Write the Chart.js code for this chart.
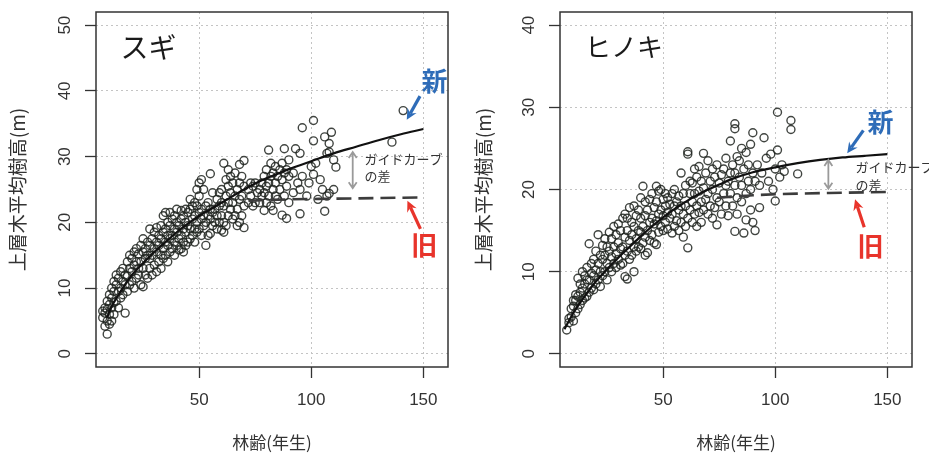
<!DOCTYPE html>
<html>
<head>
<meta charset="utf-8">
<script src="https://cdn.jsdelivr.net/npm/chart.js@4"></script>
<style>
  body { margin: 0; background: #fff; }
  .panel { position: absolute; top: 0; }
</style>
</head>
<body>
<div class="panel" style="left:0px"><canvas id="sugi" width="465" height="455"></canvas></div>
<div class="panel" style="left:464px"><canvas id="hinoki" width="465" height="455"></canvas></div>
<script>
// 軸
const xTitle = '林齢(年生)';
const yTitle = '上層木平均樹高(m)';
const xTickValues = [50, 100, 150];
const sugiYTicks = [0, 10, 20, 30, 40, 50];
const hinokiYTicks = [0, 10, 20, 30, 40];

// スギ: 林齢, 上層木平均樹高
const sugiPoints = [
  [7,6.5],[7,5.5],[8,4.2],[8,7],[9,3],[9,5],[9,8],[10,6],[10,7.5],[10,9],[11,5],[11,7],[11,8.5],[12,6],[12,9.5],[12,11],
  [8,6.2],[9,6.8],[10,4.5],[11,10],[12,7.8],[13,8],[13,10.5],[13,12],[14,7],[14,9.5],[14,11.5],[15,8.5],[15,10],[15,12.5],
  [16,9],[16,11],[16,13],[17,6.2],[17,10.5],[17,12],[18,9.5],[18,11.8],[18,14],[19,10.5],[19,13],[19,15],[20,11],[20,12.5],
  [20,14.5],[21,10],[21,13.5],[21,15.5],[22,11.5],[22,14],[22,16],[23,12],[23,13],[23,15.2],[24,10.5],[24,14],[24,16.5],
  [25,10.2],[25,13],[25,15.5],[25,17.5],[26,12],[26,14.5],[26,16],[27,11.5],[27,15],[27,17],[28,13],[28,14.5],[28,16.5],
  [28,19],[29,12],[29,15],[29,17.5],[30,13.5],[30,16],[30,18.5],[31,12.5],[31,15.5],[31,17],[31,19.2],[32,14],[32,16.5],
  [32,18],[33,13],[33,15],[33,17.5],[33,19.5],[34,14.5],[34,16],[34,18.5],[34,21],[35,15],[35,17],[35,19],[35,21.5],
  [36,14],[36,16.5],[36,18],[36,20],[37,15.5],[37,17.5],[37,19.5],[37,21.5],[38,16],[38,18],[38,20.5],[39,15],[39,17],
  [39,19],[39,21],[40,16.5],[40,18.5],[40,20],[40,22],[41,15.8],[41,17.5],[41,19.5],[42,16],[42,18],[42,20.5],[42,21.8],
  [43,15.5],[43,17],[43,19],[43,21],[44,16.5],[44,18.5],[44,20],[44,22],[45,17],[45,19.5],[45,21.5],[46,17.5],[46,19],
  [46,22],[46,23.5],[47,18],[47,20.5],[47,22.5],[48,17],[48,19],[48,21],[48,23],[49,18.5],[49,20],[49,22.5],[49,25],
  [50,19],[50,21.5],[50,24],[50,26],[51,18],[51,20.5],[51,22],[51,26.5],[52,19.5],[52,21],[52,25],[53,16.5],[53,20],
  [53,22.5],[54,18],[54,21],[54,23],[55,18.3],[55,20.5],[55,22],[55,27.4],[56,19.5],[56,21.5],[56,24.5],[57,20],[57,22],
  [58,19],[58,21],[58,23.5],[59,20],[59,22.5],[59,24.5],[60,18.8],[60,21],[60,23],[60,25],[61,18.5],[61,20],[61,22.5],
  [61,29],[62,19.5],[62,24],[62,26.5],[63,21],[63,23],[63,25.5],[63,28],[64,22],[64,24.5],[64,27],[65,20.5],[65,23],
  [65,26],[66,21],[66,24],[66,27.5],[67,19.5],[67,22],[67,25],[68,20],[68,23.5],[68,26],[68,28.8],[69,21],[69,24],
  [69,27],[70,19.2],[70,22.5],[70,25.5],[70,29.4],[72,23],[72,25],[73,24],[73,26],[74,22.5],[74,25.5],[75,23],[75,26],
  [76,24.5],[77,25],[77,23],[78,26],[78,24],[79,21.8],[79,24.5],[79,27],[80,23],[80,25.5],[80,28],[81,31],[81,26],
  [81,24],[82,22.5],[82,27],[82,29],[83,21.8],[83,25],[83,27.5],[84,24],[84,26],[84,28.5],[85,23.5],[85,27],[86,25],
  [86,28],[87,21.1],[87,26.5],[87,29],[88,31.2],[88,24],[88,27.5],[89,20.6],[89,25.5],[89,28],[90,23],[90,27],[90,29.5],
  [92,24.5],[92,27.5],[93,31.2],[94,26],[95,30.5],[95,21.3],[95,25],[96,34.4],[96,27],[98,24],[99,26],[100,28.5],
  [101,35.5],[101,32.4],[101,27.3],[102,29],[103,23.5],[104,26.5],[105,25],[106,33],[106,21.7],[107,30.5],[107,24],
  [108,32],[108,24.4],[108,30.7],[109,33.7],[110,25],[110,29.5],[111,28.4],[136,32.2],[141,37]
];
// スギ ガイドカーブ (新・旧)
const sugiNewCurve = [
  [9,5.5],[10,6.5],[15,9.5],[20,12],[25,13.8],[30,15.5],[35,17],[40,18.5],[45,19.8],[50,21],[55,22],[60,23],[65,24],
  [70,25],[75,25.9],[80,26.7],[85,27.4],[90,28.1],[95,28.7],[100,29.3],[110,30.5],[120,31.5],[130,32.5],[140,33.4],[150,34.2]
];
const sugiOldCurve = [[72,23.3],[90,23.5],[110,23.6],[130,23.7],[150,23.8]];

// ヒノキ
const hinokiPoints = [
  [7,2.9],[8,4.3],[8,3.8],[9,4.5],[9,5.5],[10,4],[10,5.8],[10,6.5],[11,5],[11,6.5],[11,7.2],[12,5.5],[12,7],[12,9.2],
  [13,6],[13,7.5],[13,8.5],[14,6.5],[14,8],[14,10],[15,6.8],[15,8.5],[15,9.5],[16,7],[16,9],[16,10.5],[17,7.5],[17,9],
  [17,13.4],[18,8],[18,9.8],[18,11],[19,7.8],[19,9.5],[19,11.5],[20,8.5],[20,10.2],[20,12.5],[21,9],[21,11],[21,14.5],
  [22,8.2],[22,10],[22,12],[23,9.5],[23,11.5],[23,13.2],[24,10],[24,12],[24,14],[25,9],[25,11],[25,13],[26,10.5],
  [26,12.5],[26,14.8],[27,10],[27,11.8],[27,14],[28,11],[28,13],[28,15.5],[29,10.5],[29,12.2],[29,14.5],[30,11.5],
  [30,13.5],[30,15.8],[31,10.8],[31,12.8],[31,15],[32,11],[32,13],[32,16.5],[33,9.4],[33,12],[33,14.2],[33,17],[34,9.1],
  [34,12.5],[34,15],[34,16.5],[35,11.5],[35,13.8],[35,17.8],[36,12],[36,14.5],[36,16],[37,10],[37,13],[37,15.5],[37,18],
  [38,12.5],[38,14],[38,16.8],[39,13],[39,15],[39,17.5],[40,12.8],[40,14.8],[40,16.5],[40,19],[41,13.5],[41,15.5],
  [41,20.4],[42,12],[42,14.2],[42,16.8],[42,18.5],[43,12.3],[43,15],[43,17.5],[44,13.8],[44,16],[44,18.8],[45,14.5],
  [45,16.5],[45,19.5],[46,13.5],[46,15.8],[46,17.8],[47,13.3],[47,16.2],[47,18.5],[47,20.4],[48,14.8],[48,17],[48,19.8],
  [49,15.5],[49,17.5],[49,20],[50,15],[50,16.8],[50,18.8],[51,16],[51,18],[51,19.5],[52,15.2],[52,17.2],[52,19],
  [53,16.5],[53,18.2],[54,14.7],[54,17],[54,19.5],[55,15.5],[55,18],[55,20],[56,16.2],[56,18.5],[57,15],[57,17.5],
  [57,19.2],[58,16],[58,18],[58,22],[59,14.2],[59,17],[59,19.5],[60,15.5],[60,18],[60,20.5],[61,12.9],[61,16.5],
  [61,24.3],[61,24.6],[62,17.5],[62,19.5],[62,21],[63,16],[63,18.5],[63,20.8],[64,17],[64,19.5],[64,22.5],[65,15.5],
  [65,18],[65,21.5],[66,17.2],[66,19.8],[66,22.8],[67,16],[67,18.5],[67,21],[68,17.5],[68,20.2],[68,24.4],[69,18.8],
  [69,22],[70,17],[70,19.5],[70,23.5],[71,18],[71,21],[72,16.5],[72,20],[72,22.5],[73,17.8],[73,21.5],[74,15.7],[74,19],
  [74,23],[75,18.5],[75,20.8],[76,17],[76,21.8],[77,19.5],[77,22.5],[78,18],[78,20.5],[78,23.8],[79,16.8],[79,21],
  [80,19.5],[80,22],[80,25.9],[81,18],[81,23],[82,28],[82,27.4],[82,14.9],[82,20.5],[82,22],[83,17],[83,19],[83,24],
  [84,21.5],[84,23.5],[85,18.5],[85,20.5],[85,25],[86,14.7],[86,22.5],[87,16.3],[87,19.5],[87,24.5],[88,21],[88,23],
  [89,17.5],[89,20],[89,25.5],[90,26.9],[90,22],[90,16],[91,15],[91,21],[92,23],[93,17.8],[93,20.5],[94,22],[95,26.3],
  [96,23.8],[97,21],[98,24.3],[99,20],[100,18.6],[100,22.5],[101,29.4],[101,24.8],[102,21.5],[103,23],[104,22.2],
  [107,28.4],[107,27.3],[110,21.9]
];
const hinokiNewCurve = [
  [6,3],[10,5],[15,7],[20,8.8],[25,10.3],[30,11.7],[35,13],[40,14.3],[45,15.5],[50,16.6],[55,17.6],[60,18.5],[65,19.3],
  [70,20],[75,20.6],[80,21.2],[90,22.1],[100,22.7],[110,23.2],[120,23.6],[130,23.9],[140,24.1],[150,24.3]
];
const hinokiOldCurve = [[74,19],[90,19.3],[110,19.5],[130,19.6],[150,19.7]];

const toXY = arr => arr.map(p => ({x: p[0], y: p[1]}));

function arrow(ctx, x1, y1, x2, y2, color, width, head) {
  const ang = Math.atan2(y2 - y1, x2 - x1);
  ctx.strokeStyle = color;
  ctx.fillStyle = color;
  ctx.lineWidth = width;
  ctx.beginPath();
  ctx.moveTo(x1, y1);
  ctx.lineTo(x2 - Math.cos(ang) * head * 0.6, y2 - Math.sin(ang) * head * 0.6);
  ctx.stroke();
  ctx.beginPath();
  ctx.moveTo(x2, y2);
  ctx.lineTo(x2 - head * Math.cos(ang - 0.45), y2 - head * Math.sin(ang - 0.45));
  ctx.lineTo(x2 - head * 0.6 * Math.cos(ang), y2 - head * 0.6 * Math.sin(ang));
  ctx.lineTo(x2 - head * Math.cos(ang + 0.45), y2 - head * Math.sin(ang + 0.45));
  ctx.closePath();
  ctx.fill();
}

function gapArrow(ctx, x, y1, y2) {
  ctx.strokeStyle = '#9a9a9a';
  ctx.lineWidth = 1.8;
  ctx.beginPath();
  ctx.moveTo(x, y1); ctx.lineTo(x, y2);
  ctx.moveTo(x - 4, y1 + 6); ctx.lineTo(x, y1); ctx.lineTo(x + 4, y1 + 6);
  ctx.moveTo(x - 4, y2 - 6); ctx.lineTo(x, y2); ctx.lineTo(x + 4, y2 - 6);
  ctx.stroke();
}

const panelNotes = {
  id: 'panelNotes',
  afterDraw(chart, args, o) {
    const {ctx, chartArea: a, scales: {x, y}} = chart;
    const px = v => x.getPixelForValue(v);
    const py = v => y.getPixelForValue(v);
    ctx.save();
    ctx.strokeStyle = '#333';
    ctx.lineWidth = 1.5;
    ctx.strokeRect(a.left, a.top, a.right - a.left, a.bottom - a.top);

    ctx.fillStyle = '#333';
    ctx.font = '17px "Liberation Sans", Arial, sans-serif';
    ctx.textAlign = 'center';
    ctx.textBaseline = 'middle';
    x.ticks.forEach(t => ctx.fillText(String(t.value), px(t.value), a.bottom + 33));
    y.ticks.forEach(t => {
      ctx.save();
      ctx.translate(a.left - 31, py(t.value));
      ctx.rotate(-Math.PI / 2);
      ctx.fillText(String(t.value), 0, 0);
      ctx.restore();
    });

    // 樹種名
    ctx.fillStyle = '#1a1a1a';
    ctx.textAlign = 'left';
    ctx.font = o.nameSize + 'px "Noto Sans CJK JP", sans-serif';
    ctx.fillText(o.name, px(o.namePos[0]), py(o.namePos[1]));

    // 新
    ctx.textAlign = 'center';
    ctx.font = 'bold 26px "Noto Sans CJK JP", sans-serif';
    ctx.fillStyle = '#2e6cb8';
    ctx.fillText('新', px(o.newPos[0]), py(o.newPos[1]));
    arrow(ctx, px(o.newArrow[0]), py(o.newArrow[1]), px(o.newArrow[2]), py(o.newArrow[3]), '#2e6cb8', 3.2, 12);
    // 旧
    ctx.fillStyle = '#e8342b';
    ctx.fillText('旧', px(o.oldPos[0]), py(o.oldPos[1]));
    arrow(ctx, px(o.oldArrow[0]), py(o.oldArrow[1]), px(o.oldArrow[2]), py(o.oldArrow[3]), '#e8342b', 3.2, 12);

    // ガイドカーブの差
    gapArrow(ctx, px(o.gap[0]), py(o.gap[1]), py(o.gap[2]));
    ctx.fillStyle = '#333';
    ctx.textAlign = 'left';
    ctx.font = '13px "Noto Sans CJK JP", sans-serif';
    ctx.fillText('ガイドカーブ', px(o.gapText[0]), py(o.gapText[1]));
    ctx.fillText('の差', px(o.gapText[0]), py(o.gapText[2]));
    ctx.restore();
  }
};

function makeChart(id, points, newCurve, oldCurve, yMin, yMax, yTicks, notes) {
  return new Chart(document.getElementById(id), {
    type: 'scatter',
    data: {
      datasets: [
        {
          data: toXY(newCurve), showLine: true, pointRadius: 0,
          borderColor: '#111', borderWidth: 2.2, cubicInterpolationMode: 'monotone'
        },
        {
          data: toXY(oldCurve), showLine: true, pointRadius: 0,
          borderColor: '#3c3c3c', borderWidth: 2.6, borderDash: [15, 7], cubicInterpolationMode: 'monotone'
        },
        {
          data: toXY(points), pointRadius: 4, pointBorderWidth: 1.4,
          pointBorderColor: 'rgba(32,36,32,0.85)', pointBackgroundColor: 'rgba(0,0,0,0)'
        }
      ]
    },
    options: {
      responsive: false,
      animation: false,
      events: [],
      layout: { padding: { left: 0, right: 17, top: 12, bottom: 0 } },
      plugins: { legend: { display: false }, tooltip: { enabled: false }, panelNotes: notes },
      scales: {
        x: {
          type: 'linear', min: 4, max: 161,
          afterBuildTicks: s => { s.ticks = xTickValues.map(v => ({ value: v })); },
          afterFit: s => { s.height = 88; },
          ticks: { display: false },
          grid: { color: '#c4c4c4', lineWidth: 1, tickLength: 11, tickColor: '#333', tickWidth: 1.3, tickBorderDash: [] },
          border: { display: false, dash: [2, 3] },
          title: { display: true, text: xTitle, color: '#333', padding: { top: 0, bottom: 2 },
                   font: { family: '"Noto Sans CJK JP", sans-serif', size: 17 } }
        },
        y: {
          type: 'linear', min: yMin, max: yMax,
          afterBuildTicks: s => { s.ticks = yTicks.map(v => ({ value: v })); },
          afterFit: s => { s.width = 96; },
          ticks: { display: false },
          grid: { color: '#c4c4c4', lineWidth: 1, tickLength: 11, tickColor: '#333', tickWidth: 1.3, tickBorderDash: [] },
          border: { display: false, dash: [2, 3] },
          title: { display: true, text: yTitle, color: '#333', padding: { top: notes.yTitlePad, bottom: 0 },
                   font: { family: '"Noto Sans CJK JP", sans-serif', size: 19 } }
        }
      }
    },
    plugins: [panelNotes]
  });
}

makeChart('sugi', sugiPoints, sugiNewCurve, sugiOldCurve, -2, 52, sugiYTicks, {
  name: 'スギ', nameSize: 28, namePos: [14.9, 46.6],
  newPos: [155, 41.5], newArrow: [148.5, 39.2, 142.6, 35.6],
  oldPos: [150.4, 16.5], oldArrow: [148.7, 19, 142.9, 23.3],
  gap: [118.5, 30.7, 25.2], gapText: [123.8, 29.7, 27.0],
  yTitlePad: 6
});
makeChart('hinoki', hinokiPoints, hinokiNewCurve, hinokiOldCurve, -1.6, 41.6, hinokiYTicks, {
  name: 'ヒノキ', nameSize: 26, namePos: [15.2, 37.3],
  newPos: [147, 28.2], newArrow: [139.3, 27.2, 132.1, 24.4],
  oldPos: [142.5, 13.1], oldArrow: [139.7, 15.4, 135.6, 18.8],
  gap: [123.7, 23.6, 20.1], gapText: [135.8, 22.7, 20.5],
  yTitlePad: 8
});
</script>
</body>
</html>
